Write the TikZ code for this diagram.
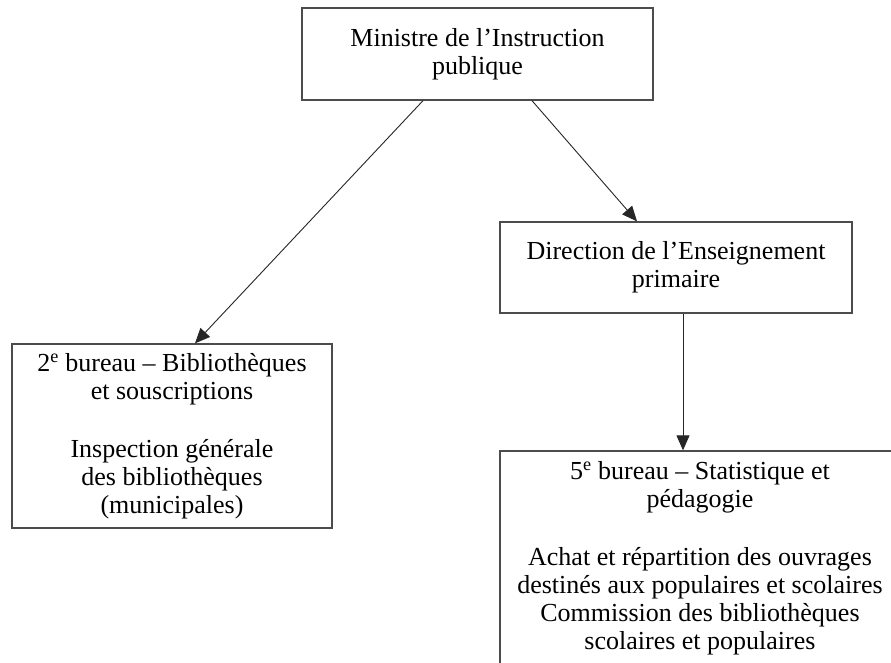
\documentclass[tikz,border=0pt]{standalone}
\usepackage{fontspec}
\setmainfont{Liberation Serif}
\usetikzlibrary{arrows.meta}

\begin{document}
\begin{tikzpicture}[x=1pt, y=-1pt,
		box/.style={draw=black!70, line width=1.3pt, inner sep=0pt, align=center,
			font=\fontsize{26}{28}\selectfont},
		link/.style={draw=black!85, line width=0.9pt, -{Triangle[length=15pt, width=13pt]}}]
			\fill[white] (0,0) rectangle (891,663);
			\useasboundingbox (0,0) rectangle (891,663);
			
			\node[box, minimum width=351pt, minimum height=92pt] (ministre) at (477.5,54) {Ministre de l’Instruction\\publique};
			\node[box, minimum width=352pt, minimum height=91pt] (direction) at (676,267.5) {Direction de l’Enseignement\\primaire};
			\node[box, minimum width=320pt, minimum height=184pt] (bureau2) at (172,436) {2\textsuperscript{e} bureau – Bibliothèques\\et souscriptions\\[30pt]Inspection générale\\des bibliothèques\\(municipales)};
			\node[box, minimum width=400pt, minimum height=214pt] (bureau5) at (700,558) {5\textsuperscript{e} bureau – Statistique et\\pédagogie\\[30pt]Achat et répartition des ouvrages\\destinés aux populaires et scolaires\\Commission des bibliothèques\\scolaires et populaires};
			
			\draw[link] ([xshift=-54.5pt]ministre.south) -- ([xshift=23pt]bureau2.north);
			\draw[link] ([xshift=54.5pt]ministre.south) -- ([xshift=-39pt]direction.north);
			\draw[link] ([xshift=7pt]direction.south) -- ([xshift=7pt]direction.south |- bureau5.north);
		\end{tikzpicture}
\end{document}
